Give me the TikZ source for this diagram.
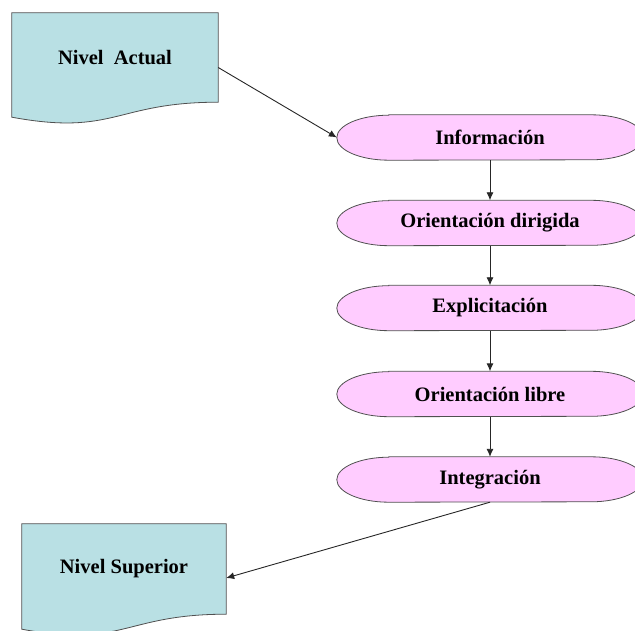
\documentclass[tikz,border=0pt]{standalone}
\usepackage{fontspec}
\setmainfont{Liberation Serif}
\usetikzlibrary{arrows.meta,backgrounds}
\definecolor{docfill}{RGB}{185,224,228}
\definecolor{termfill}{RGB}{255,204,255}
\definecolor{edgecol}{RGB}{80,80,80}
\begin{document}
\begin{tikzpicture}[x=1pt,y=-1pt,
  lbl/.style={font=\fontsize{20.5}{24}\selectfont\bfseries, inner sep=0pt},
  termbox/.style={lbl, minimum width=306pt, minimum height=45pt},
  docbox/.style={lbl, minimum width=206pt, minimum height=89pt},
  shapeline/.style={draw=edgecol, line width=0.8pt},
  conn/.style={draw=black!85, line width=0.9pt, -{Latex[length=8pt,width=7pt]}}]
\useasboundingbox (0,0) rectangle (635,631);
\clip (0,0) rectangle (635,631);
\node[docbox] (act) at (115,57.5) {Nivel\ \ Actual};
\node[docbox, minimum width=204pt, minimum height=90pt] (sup) at (124,569) {Nivel Superior};
\node[termbox] (info) at (490,137.5) {Información};
\node[termbox] (dir) at (490,223) {Orientación dirigida};
\node[termbox] (expl) at (490,308) {Explicitación};
\node[termbox] (lib) at (490,394) {Orientación libre};
\node[termbox] (integ) at (490,479.5) {Integración};
\begin{scope}[on background layer]
\foreach \n in {act,sup}{
  \path[shapeline, fill=docfill] (\n.north west) -- (\n.north east) -- (\n.south east)
    .. controls (\n.south) and ([yshift=-34pt]\n.south) .. ([yshift=-15pt]\n.south west) -- cycle;
}
\foreach \n in {info,dir,expl,lib,integ}{
  \path[shapeline, fill=termfill] ([xshift=52pt]\n.north west) -- ([xshift=-52pt]\n.north east)
    arc[start angle=90, end angle=-90, x radius=52pt, y radius=22.5pt]
    -- ([xshift=52pt]\n.south west)
    arc[start angle=270, end angle=90, x radius=52pt, y radius=22.5pt] -- cycle;
}
\end{scope}
\draw[conn] ([yshift=-10pt]act.east) -- (info.west);
\draw[conn] (info) -- (dir);
\draw[conn] (dir) -- (expl);
\draw[conn] (expl) -- (lib);
\draw[conn] (lib) -- (integ);
\draw[conn] (integ.south) -- ([yshift=-9pt]sup.east);
\end{tikzpicture}
\end{document}
